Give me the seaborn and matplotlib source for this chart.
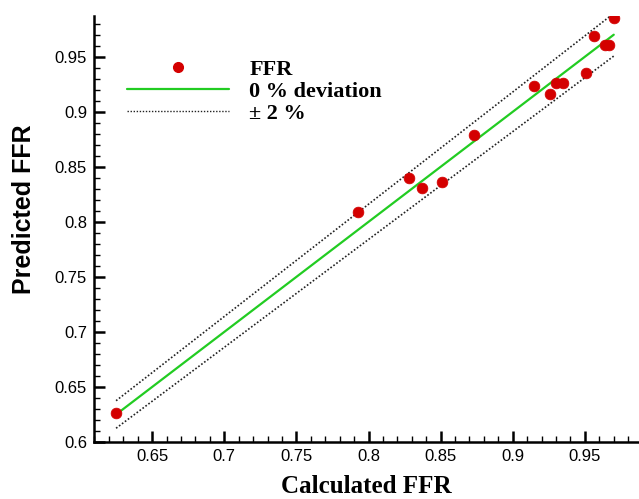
import matplotlib
matplotlib.use("Agg")
import matplotlib.pyplot as plt
from matplotlib.ticker import MultipleLocator
from matplotlib.lines import Line2D
import seaborn as sns
import pandas as pd

# ---- data ----
calculated_ffr = [0.625, 0.793, 0.828, 0.837, 0.851, 0.873, 0.915, 0.926, 0.930,
                  0.935, 0.951, 0.956, 0.964, 0.967, 0.970]
predicted_ffr = [0.626, 0.809, 0.840, 0.831, 0.836, 0.879, 0.923, 0.916, 0.926,
                 0.926, 0.935, 0.969, 0.961, 0.961, 0.985]
line_range = [0.625, 0.97]
deviation = 0.02
legend_labels = ["FFR", "0 % deviation", "\u00b1 2 %"]
x_label = "Calculated FFR"
y_label = "Predicted FFR"

sns.set_style("ticks")
plt.rcParams["font.family"] = ["Liberation Sans", "DejaVu Sans"]
plt.rcParams["text.color"] = "black"
plt.rcParams["axes.labelcolor"] = "black"

fig = plt.figure(figsize=(6.39, 4.99), dpi=100)
ax = fig.add_axes([94 / 639, 57 / 499, 545 / 639, 426 / 499])

lines_df = pd.DataFrame({
    "x": line_range,
    "exact": line_range,
    "upper": [v * (1 + deviation) for v in line_range],
    "lower": [v * (1 - deviation) for v in line_range],
})
dot = (0, (1, 1.2))
sns.lineplot(data=lines_df, x="x", y="upper", ax=ax, color="#222222",
             linestyle=dot, linewidth=1.2)
sns.lineplot(data=lines_df, x="x", y="lower", ax=ax, color="#222222",
             linestyle=dot, linewidth=1.2)
sns.lineplot(data=lines_df, x="x", y="exact", ax=ax, color="#22cc22",
             linewidth=1.6)

pts = pd.DataFrame({"calc": calculated_ffr, "pred": predicted_ffr})
sns.scatterplot(data=pts, x="calc", y="pred", ax=ax, color="#d40000",
                s=60, marker="o", edgecolor="#d40000", linewidth=0.5, zorder=5)

ax.set_xlim(0.6097, 0.9875)
ax.set_ylim(0.6, 0.987)
ax.xaxis.set_major_locator(MultipleLocator(0.05))
ax.xaxis.set_minor_locator(MultipleLocator(0.01))
ax.yaxis.set_major_locator(MultipleLocator(0.05))
ax.yaxis.set_minor_locator(MultipleLocator(0.01))


def fmt(v, pos):
    return f"{v:.2f}".rstrip("0").rstrip(".")


ax.xaxis.set_major_formatter(plt.FuncFormatter(fmt))
ax.yaxis.set_major_formatter(plt.FuncFormatter(fmt))

for spine in ["top", "right"]:
    ax.spines[spine].set_visible(False)
for spine in ["left", "bottom"]:
    ax.spines[spine].set_linewidth(1.8)
    ax.spines[spine].set_color("black")

ax.tick_params(which="major", direction="in", length=8, width=1.8,
               labelsize=12, colors="black", pad=5)
ax.tick_params(which="minor", direction="in", length=4.5, width=1.0, colors="black")

ax.set_xlabel(x_label, family=["Liberation Serif", "DejaVu Serif"],
              fontweight="bold", fontsize=18, labelpad=8, color="black")
ax.set_ylabel(y_label, fontweight="bold", fontsize=18, color="black")
ax.yaxis.set_label_coords(-0.106, (442 - 209) / 426)

handles = [
    Line2D([], [], linestyle="none", marker="o", color="#d40000", markersize=7),
    Line2D([], [], color="#22cc22", linewidth=1.6),
    Line2D([], [], color="#222222", linestyle=dot, linewidth=1.0),
]
leg = ax.legend(handles, legend_labels, loc="upper left",
                bbox_to_anchor=(33 / 545, (442 - 59) / 426), frameon=False,
                borderaxespad=0, borderpad=0,
                handlelength=4.6, handletextpad=0.9, labelspacing=0.08,
                prop={"family": ["Liberation Serif", "DejaVu Serif"],
                      "weight": "bold", "size": 16})

fig.savefig("out.png", dpi=100)
